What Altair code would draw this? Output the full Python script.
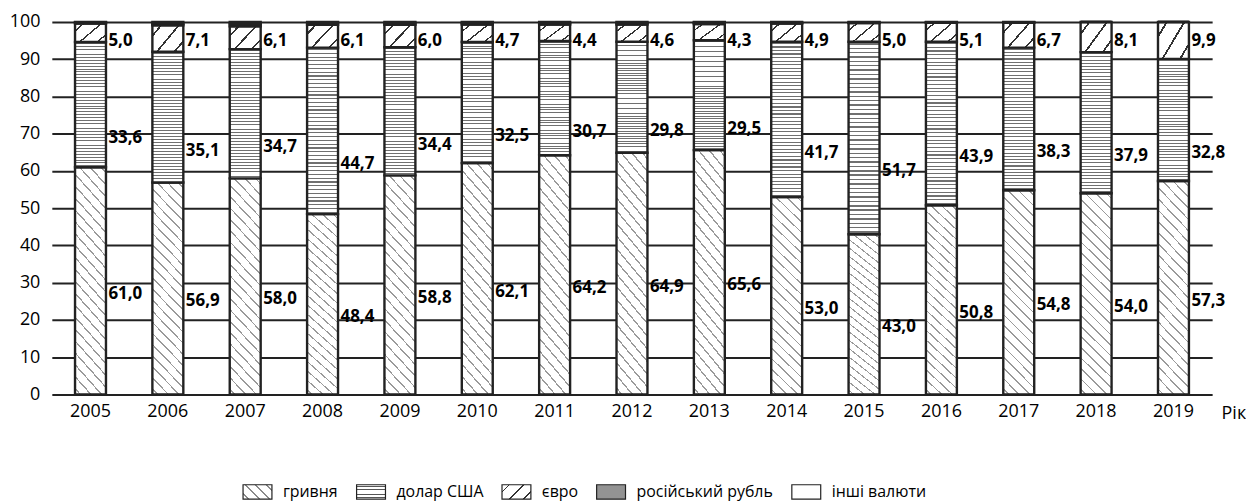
import altair as alt
import pandas as pd

years = [str(y) for y in range(2005, 2020)]
currencies = ["гривня", "долар США", "євро", "російський рубль", "інші валюти"]
hryvnia = [61.0, 56.9, 58.0, 48.4, 58.8, 62.1, 64.2, 64.9, 65.6, 53.0, 43.0, 50.8, 54.8, 54.0, 57.3]
usd = [33.6, 35.1, 34.7, 44.7, 34.4, 32.5, 30.7, 29.8, 29.5, 41.7, 51.7, 43.9, 38.3, 37.9, 32.8]
eur = [5.0, 7.1, 6.1, 6.1, 6.0, 4.7, 4.4, 4.6, 4.3, 4.9, 5.0, 5.1, 6.7, 8.1, 9.9]
rub = [0.3, 0.5, 0.6, 0.5, 0.5, 0.4, 0.4, 0.4, 0.4, 0.2, 0.1, 0.1, 0.1, 0.0, 0.0]
other = [0.1, 0.4, 0.6, 0.3, 0.3, 0.3, 0.3, 0.3, 0.2, 0.2, 0.2, 0.1, 0.1, 0.0, 0.0]

series = [hryvnia, usd, eur, rub, other]
rows = []
for i, y in enumerate(years):
    for k, (cur, vals) in enumerate(zip(currencies, series)):
        rows.append({"year": y, "currency": cur, "idx": k, "value": vals[i]})
df = pd.DataFrame(rows)
legend_df = pd.DataFrame({"currency": currencies})


def stripes(x1, y1, x2, y2, n, frac, color, bg="#ffffff"):
    stops = [(0.0, bg)]
    for i in range(n):
        s = (i + 0.5 - frac / 2) / n
        e = (i + 0.5 + frac / 2) / n
        stops += [(s, bg), (s, color), (e, color), (e, bg)]
    stops.append((1.0, bg))
    st = ",".join("{offset:%.5f,color:'%s'}" % (o, c) for o, c in stops)
    return alt.ExprRef(
        "{gradient:'linear',x1:%g,y1:%g,x2:%g,y2:%g,stops:[%s]}" % (x1, y1, x2, y2, st)
    )


bar_range = [
    stripes(0, 1, 0.172, -0.127, 22, 0.16, "#9a9a9a"),
    stripes(0, 0, 0, 1, 44, 0.32, "#707070"),
    stripes(0, 0, 1.136, 0.806, 3, 0.12, "#333333"),
    "#939393",
    "#ffffff",
]
legend_range = [
    stripes(0, 1, 1.2, 0.4, 4, 0.18, "#8a8a8a"),
    stripes(0, 0, 0, 1, 5, 0.3, "#555555"),
    stripes(0, 0, 1.2, 0.6, 3, 0.13, "#333333"),
    "#939393",
    "#ffffff",
]

FONT = "Open Sans"

x_axis = alt.Axis(
    title="Рік", titleAnchor="end", titleAlign="left", titleBaseline="middle",
    titleX=1174, titleY=19, titleFont=FONT, titleFontSize=18, titleFontWeight="normal",
    titleColor="black", labelAngle=0, labelFont=FONT, labelFontSize=18,
    labelColor="black", labelPadding=8, domain=False, ticks=False, tickSize=0,
)
y_axis = alt.Axis(
    title=None, values=list(range(0, 101, 10)), labelFont=FONT, labelFontSize=18,
    labelColor="black", labelPadding=12, domain=False, ticks=False, tickSize=0,
    grid=True, gridColor="#222222", gridWidth=2, labelOverlap=False,
)
x_scale = alt.Scale(paddingInner=0.6, paddingOuter=0.3)
y_scale = alt.Scale(domain=[0, 100], nice=False)

bars = alt.Chart(df).mark_bar(stroke="#222222", strokeWidth=2.4).encode(
    x=alt.X("year:N", sort=years, scale=x_scale, axis=x_axis),
    y=alt.Y("value:Q", stack="zero", scale=y_scale, axis=y_axis),
    fill=alt.Fill("currency:N", scale=alt.Scale(domain=currencies, range=bar_range), legend=None),
    order=alt.Order("idx:Q", sort="ascending"),
)

labels = (
    alt.Chart(df)
    .transform_stack(
        stack="value", groupby=["year"], as_=["v0", "v1"],
        sort=[alt.SortField("idx", order="ascending")],
    )
    .transform_filter("datum.idx < 3")
    .transform_calculate(
        ly="datum.idx == 0 ? (datum.v0 + datum.v1) / 2 - 3.5 : (datum.idx == 1 ? (datum.v0 + datum.v1) / 2 - 9 : 95)",
        txt="replace(format(datum.value, '.1f'), '.', ',')",
    )
    .mark_text(align="left", baseline="middle", dx=18, font=FONT, fontSize=17,
               fontWeight="bold", color="black")
    .encode(x=alt.X("year:N", sort=years, scale=x_scale, axis=x_axis),
            y=alt.Y("ly:Q", scale=y_scale, axis=y_axis), text="txt:N")
)

legend_layer = alt.Chart(legend_df).mark_bar(strokeWidth=0).encode(
    x=alt.value(0), x2=alt.value(0), y=alt.value(0), y2=alt.value(0),
    fill=alt.Fill(
        "currency:N",
        scale=alt.Scale(domain=currencies, range=legend_range),
        legend=alt.Legend(
            title=None, orient="none", legendX=191, legendY=456, direction="horizontal",
            symbolType="M-1,-0.5H1V0.5H-1Z", symbolSize=841,
            symbolStrokeColor="#222222", symbolStrokeWidth=1.2,
            labelFont=FONT, labelFontSize=16, labelColor="black",
            labelOffset=10, columnPadding=15,
        ),
    ),
)

chart = (
    alt.layer(bars, labels, legend_layer)
    .resolve_scale(fill="independent")
    .properties(width=1165, height=374, padding={"left": 1, "top": 4, "right": 0, "bottom": 0},
                background="white")
    .configure_view(stroke=None)
)

chart.save("out.html", embed_options={"renderer": "svg", "actions": False})
